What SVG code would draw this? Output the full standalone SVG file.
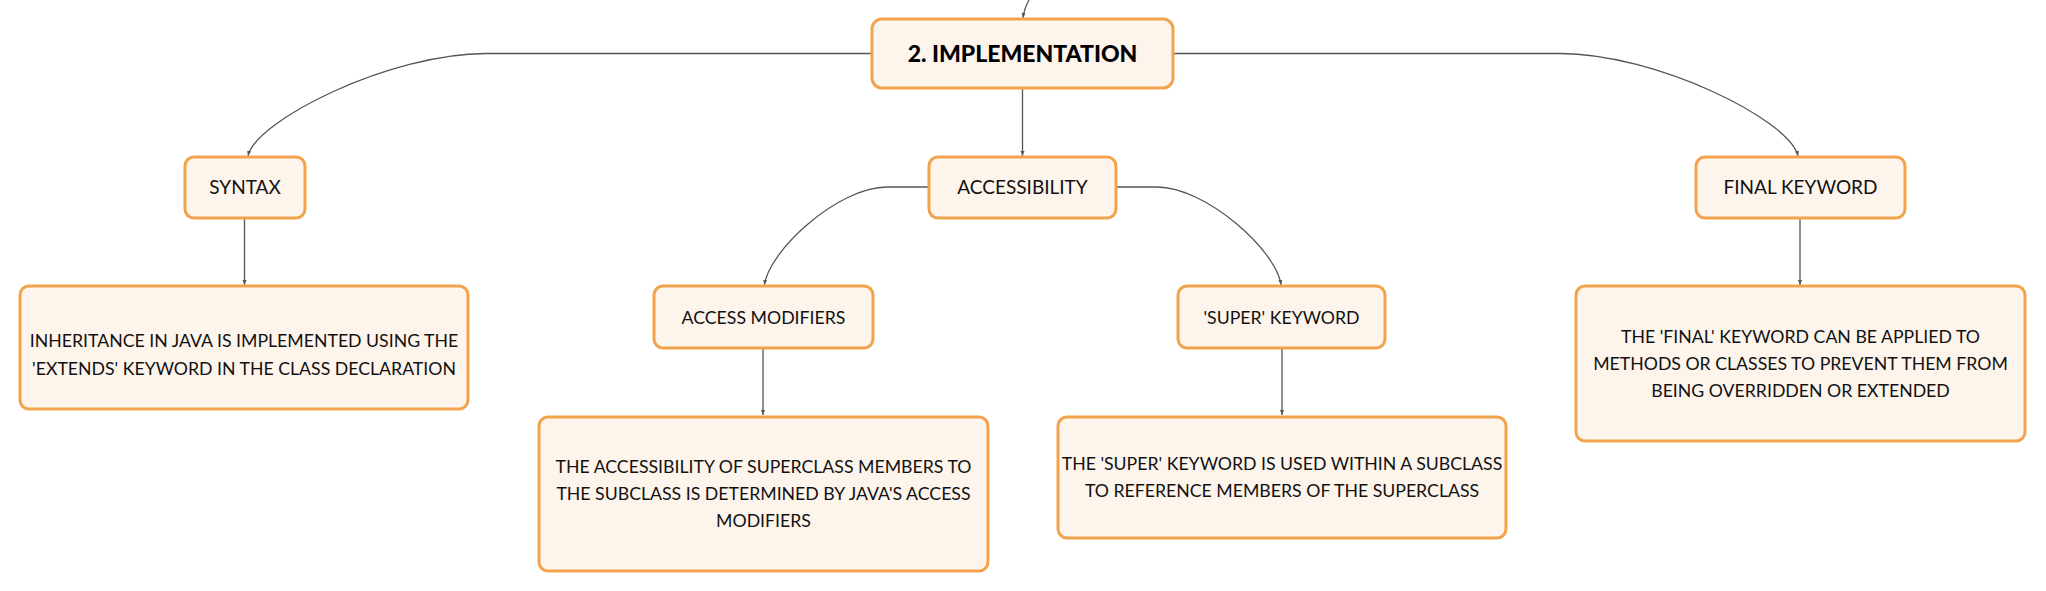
<svg xmlns="http://www.w3.org/2000/svg" width="2046" height="591" viewBox="0 0 2046 591">
<style>
.box{fill:#fdf4ec;stroke:#f2a34c;stroke-width:3}
.t{font-family:Lato,"Noto Sans",sans-serif;font-size:17.7px;fill:#111;text-anchor:middle}
.l{font-family:Lato,"Noto Sans",sans-serif;font-size:19px;fill:#111;text-anchor:middle}
.title{font-family:Lato,"Noto Sans",sans-serif;font-size:23px;font-weight:900;fill:#000;text-anchor:middle}
.c{fill:none;stroke:#555;stroke-width:1.3;marker-end:url(#ah)}
</style>
<defs>
<marker id="ah" viewBox="0 0 10 10" refX="10" refY="5" markerWidth="5" markerHeight="5" markerUnits="userSpaceOnUse" orient="auto">
<path d="M0,1 L10,5 L0,9 z" fill="#555"/>
</marker>
</defs>
<rect width="2046" height="591" fill="#fff"/>
<g id="connectors">
<path class="c" d="M1029,0 Q1024,9 1023,18"/>
<path class="c" d="M872,53.5 L486,53.5 C390,53.5 256,120 248,156"/>
<path class="c" d="M1022.5,88 L1022.5,156"/>
<path class="c" d="M1172,53.5 L1560,53.5 C1656,53.5 1790,120 1798,156"/>
<path class="c" d="M244.5,218 L244.5,285"/>
<path class="c" d="M929,187 L887,187 C838,187 768.5,251 764.5,285"/>
<path class="c" d="M1116,187 L1157,187 C1206,187 1277,251 1281,285"/>
<path class="c" d="M763,348 L763,415"/>
<path class="c" d="M1282,348 L1282,415"/>
<path class="c" d="M1800,218 L1800,285"/>
</g>
<g id="implementation">
<rect class="box" x="872" y="19" width="301" height="69" rx="10"/>
<text class="title" x="1022.5" y="62">2. IMPLEMENTATION</text>
</g>
<g id="syntax">
<rect class="box" x="185" y="157" width="120" height="61" rx="9"/>
<text class="l" x="245" y="194">SYNTAX</text>
</g>
<g id="accessibility">
<rect class="box" x="929" y="157" width="187" height="61" rx="9"/>
<text class="l" x="1022.5" y="194">ACCESSIBILITY</text>
</g>
<g id="final-keyword">
<rect class="box" x="1696" y="157" width="209" height="61" rx="9"/>
<text class="l" x="1800.5" y="194">FINAL KEYWORD</text>
</g>
<g id="syntax-desc">
<rect class="box" x="20" y="286" width="448" height="123" rx="9"/>
<text class="t" x="244" y="347">INHERITANCE IN JAVA IS IMPLEMENTED USING THE</text>
<text class="t" x="244" y="375">'EXTENDS' KEYWORD IN THE CLASS DECLARATION</text>
</g>
<g id="access-modifiers">
<rect class="box" x="654" y="286" width="219" height="62" rx="9"/>
<text class="t" x="763.5" y="323.5">ACCESS MODIFIERS</text>
</g>
<g id="super-keyword">
<rect class="box" x="1178" y="286" width="207" height="62" rx="9"/>
<text class="t" x="1281.5" y="323.5">'SUPER' KEYWORD</text>
</g>
<g id="access-desc">
<rect class="box" x="539" y="417" width="449" height="154" rx="9"/>
<text class="t" x="763.5" y="472.5">THE ACCESSIBILITY OF SUPERCLASS MEMBERS TO</text>
<text class="t" x="763.5" y="500">THE SUBCLASS IS DETERMINED BY JAVA'S ACCESS</text>
<text class="t" x="763.5" y="527">MODIFIERS</text>
</g>
<g id="super-desc">
<rect class="box" x="1058" y="417" width="448" height="121" rx="9"/>
<text class="t" x="1282" y="470">THE 'SUPER' KEYWORD IS USED WITHIN A SUBCLASS</text>
<text class="t" x="1282" y="497">TO REFERENCE MEMBERS OF THE SUPERCLASS</text>
</g>
<g id="final-desc">
<rect class="box" x="1576" y="286" width="449" height="155" rx="9"/>
<text class="t" x="1800.5" y="342.5">THE 'FINAL' KEYWORD CAN BE APPLIED TO</text>
<text class="t" x="1800.5" y="369.5">METHODS OR CLASSES TO PREVENT THEM FROM</text>
<text class="t" x="1800.5" y="396.5">BEING OVERRIDDEN OR EXTENDED</text>
</g>
</svg>
